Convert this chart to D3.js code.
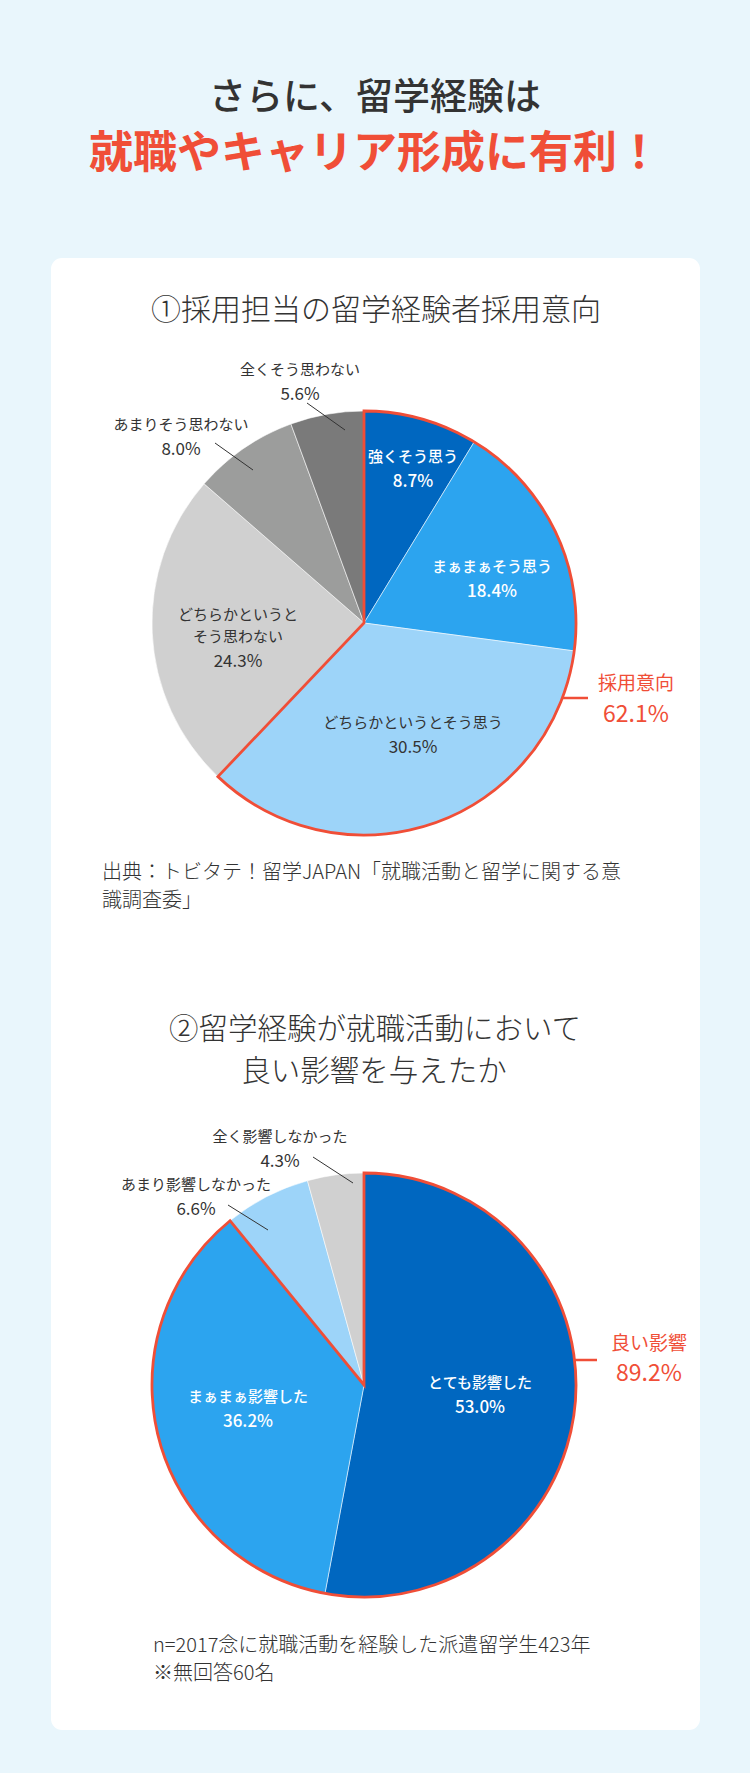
<!DOCTYPE html>
<html><head><meta charset="utf-8">
<script src="https://cdn.jsdelivr.net/npm/d3@7"></script>
<style>
html,body{margin:0;padding:0;background:#e9f6fc;}
svg{display:block;font-family:"Noto Sans CJK JP","Noto Sans",sans-serif;}
</style></head><body>
<svg id="c" width="750" height="1773"></svg>
<script>
// ---------- data ----------
const chart1Categories = ["強くそう思う", "まぁまぁそう思う", "どちらかというとそう思う", "どちらかというと\nそう思わない", "あまりそう思わない", "全くそう思わない"];
const chart1Values = [8.7, 18.4, 35.0, 24.3, 8.0, 5.6];          // slice shares as drawn
const chart1Labels = ["8.7%", "18.4%", "30.5%", "24.3%", "8.0%", "5.6%"]; // printed percentages
const chart1GroupName = "採用意向";
const chart1GroupValue = "62.1%";
const chart1GroupCount = 3;

const chart2Categories = ["とても影響した", "まぁまぁ影響した", "あまり影響しなかった", "全く影響しなかった"];
const chart2Values = [53.0, 36.2, 6.6, 4.3];
const chart2Labels = ["53.0%", "36.2%", "6.6%", "4.3%"];
const chart2GroupName = "良い影響";
const chart2GroupValue = "89.2%";
const chart2GroupCount = 2;

// ---------- style / layout ----------
const RED = "#f04e37";
const colors1 = ["#0067c0", "#2ca4ef", "#9dd4f9", "#d0d0d0", "#9c9d9c", "#7a7a7a"];
const colors2 = ["#0067c0", "#2ca4ef", "#9dd4f9", "#d0d0d0"];
const textColors1 = ["#fff", "#fff", "#333", "#333", "#333", "#333"];
const textColors2 = ["#fff", "#fff", "#333", "#333"];
// label centre offsets (from pie centre) and optional leader lines
const layout1 = [
  {dx: 49, dy: -166}, {dx: 128, dy: -56}, {dx: 49, dy: 100},
  {dx: -126, dy: -8}, {dx: -183, dy: -198, line: [-149, -180, -111, -153]},
  {dx: -64, dy: -253, line: [-57, -220, -19, -193]}
];
const layout2 = [
  {dx: 116, dy: -2}, {dx: -116, dy: 12},
  {dx: -168, dy: -200, line: [-136, -180, -96, -155]},
  {dx: -84, dy: -248, line: [-51, -228, -11, -202]}
];

const svg = d3.select("#c");
const W = 750;

// background + card
svg.append("rect").attr("width", W).attr("height", 1773).attr("fill", "#e9f6fc");
svg.append("rect").attr("x", 51).attr("y", 258).attr("width", 649).attr("height", 1472)
  .attr("rx", 11).attr("fill", "#fff");

function bl(center, size) { return center + 0.36 * size; }

// main heading
svg.append("text").attr("x", 375).attr("y", 110).attr("text-anchor", "middle")
  .attr("font-size", 37).attr("font-weight", 500).attr("fill", "#333")
  .text("さらに、留学経験は");
svg.append("text").attr("x", 375).attr("y", 168).attr("text-anchor", "middle")
  .attr("font-size", 44).attr("font-weight", 700).attr("fill", RED)
  .text("就職やキャリア形成に有利！");

// chart titles
svg.append("text").attr("x", 376).attr("y", 320).attr("text-anchor", "middle")
  .attr("font-size", 30).attr("font-weight", 300).attr("fill", "#333").text("①採用担当の留学経験者採用意向");
svg.append("text").attr("text-anchor", "middle").attr("x", 375).attr("y", 1039)
  .attr("font-size", 29.5).attr("font-weight", 300).attr("fill", "#333").text("②留学経験が就職活動において");
svg.append("text").attr("text-anchor", "middle").attr("x", 374).attr("y", 1081)
  .attr("font-size", 29.5).attr("font-weight", 300).attr("fill", "#333").text("良い影響を与えたか");

function drawPie(cx, cy, r, cats, vals, labels, colors, tcolors, layout, gName, gValue, gCount, gLayout) {
  const g = svg.append("g").attr("transform", `translate(${cx},${cy})`);
  const pie = d3.pie().sort(null).value(d => d)(vals);
  const arc = d3.arc().innerRadius(0).outerRadius(r);
  g.selectAll("path.slice").data(pie).join("path").attr("class", "slice")
    .attr("d", arc).attr("fill", (d, i) => colors[i])
    .attr("stroke", "rgba(255,255,255,0.55)").attr("stroke-width", 1);
  // highlighted group outline
  const endA = pie[gCount - 1].endAngle;
  g.append("path").attr("d", d3.arc().innerRadius(0).outerRadius(r)({startAngle: 0, endAngle: endA}))
    .attr("fill", "none").attr("stroke", RED).attr("stroke-width", 2.8).attr("stroke-linejoin", "miter");
  // leader lines
  layout.forEach((l) => {
    if (l.line) g.append("line").attr("x1", l.line[0]).attr("y1", l.line[1])
      .attr("x2", l.line[2]).attr("y2", l.line[3]).attr("stroke", "#333").attr("stroke-width", 1);
  });
  // slice labels
  cats.forEach((c, i) => {
    const lines = c.split("\n");
    const l = layout[i];
    lines.forEach((t, k) => {
      g.append("text").attr("x", l.dx).attr("y", bl(l.dy + k * 22, 15))
        .attr("text-anchor", "middle").attr("font-size", 15)
        .attr("font-weight", tcolors[i] === "#fff" ? 500 : 400)
        .attr("fill", tcolors[i]).text(t);
    });
    g.append("text").attr("x", l.dx).attr("y", bl(l.dy + (lines.length - 1) * 22 + 23.5, 17))
      .attr("text-anchor", "middle").attr("font-size", 17)
      .attr("font-weight", tcolors[i] === "#fff" ? 500 : 400)
      .attr("fill", tcolors[i]).text(labels[i]);
  });
  // group label
  const ly = gLayout.lineY;
  const ex = Math.sqrt(r * r - ly * ly);
  g.append("line").attr("x1", ex).attr("y1", ly).attr("x2", gLayout.lineX2).attr("y2", ly)
    .attr("stroke", RED).attr("stroke-width", 2.5);
  g.append("text").attr("x", gLayout.tx).attr("y", bl(gLayout.ty, 19)).attr("text-anchor", "middle")
    .attr("font-size", 19).attr("fill", RED).text(gName);
  g.append("text").attr("x", gLayout.tx).attr("y", bl(gLayout.ty + gLayout.gap, 23)).attr("text-anchor", "middle")
    .attr("font-size", 23).attr("fill", RED).text(gValue);
}

drawPie(364, 623, 212, chart1Categories, chart1Values, chart1Labels, colors1, textColors1, layout1,
  chart1GroupName, chart1GroupValue, chart1GroupCount, {lineY: 75, lineX2: 224, tx: 272, ty: 60, gap: 31});
drawPie(364, 1385, 212, chart2Categories, chart2Values, chart2Labels, colors2, textColors2, layout2,
  chart2GroupName, chart2GroupValue, chart2GroupCount, {lineY: -25, lineX2: 233, tx: 285, ty: -42, gap: 30});

// notes
const note1 = ["出典：トビタテ！留学JAPAN「就職活動と留学に関する意", "識調査委」"];
note1.forEach((t, i) => svg.append("text").attr("x", 102).attr("y", 879 + i * 28)
  .attr("font-size", 20).attr("font-weight", 300).attr("fill", "#333").text(t));
const note2 = ["n=2017念に就職活動を経験した派遣留学生423年", "※無回答60名"];
note2.forEach((t, i) => svg.append("text").attr("x", 153).attr("y", 1652 + i * 28)
  .attr("font-size", 20).attr("font-weight", 300).attr("fill", "#333").text(t));
</script>
</body></html>
